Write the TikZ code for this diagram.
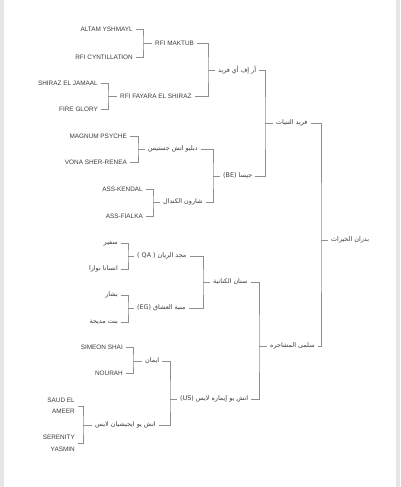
\documentclass[tikz,border=0pt]{standalone}
\usepackage{fontspec}
\setmainfont{Liberation Sans}
\newfontfamily\arabicfont[Script=Arabic]{DejaVu Sans}
\TeXXeTstate=1
\definecolor{txt}{HTML}{3C3C3C}
\definecolor{ln}{HTML}{8F8F8F}
\definecolor{edgegray}{HTML}{E6E6E6}
\newcommand\arr[1]{\beginR #1\endR}
\tikzset{
 lat/.style={inner sep=0pt, text=txt, font=\fontsize{6.4}{11.5}\selectfont},
 ara/.style={inner sep=0pt, text=txt, font=\arabicfont\fontsize{6.4}{7.5}\selectfont},
 link/.style={draw=ln, line width=0.7pt},
}
\begin{document}
\begin{tikzpicture}[x=1pt,y=-1pt]
\useasboundingbox (0,0) rectangle (400,487);
\fill[white] (0,0) rectangle (400,487);
\fill[edgegray] (0,0) rectangle (3.5,487);
\fill[edgegray] (396,0) rectangle (400,487);

% leaves
\node[lat,anchor=east] (n1) at (133,29) {ALTAM YSHMAYL};
\node[lat,anchor=east] (n2) at (133,57) {RFI CYNTILLATION};
\node[lat,anchor=east] (n3) at (98,83) {SHIRAZ EL JAMAAL};
\node[lat,anchor=east] (n4) at (98,109) {FIRE GLORY};
\node[lat,anchor=east] (n5) at (127,136) {MAGNUM PSYCHE};
\node[lat,anchor=east] (n6) at (127,162) {VONA SHER-RENEA};
\node[lat,anchor=east] (n7) at (143,189) {ASS-KENDAL};
\node[lat,anchor=east] (n8) at (143,216) {ASS-FIALKA};
\node[ara,anchor=east] (n9) at (118,243) {\arr{سفير}};
\node[ara,anchor=east] (n10) at (118,269) {\arr{انسانا نوارا}};
\node[ara,anchor=east] (n11) at (118,295) {\arr{بشار}};
\node[ara,anchor=east] (n12) at (118,322) {\arr{بنت مديحة}};
\node[lat,anchor=east] (n13) at (123,347) {SIMEON SHAI};
\node[lat,anchor=east] (n14) at (123,373) {NOURAH};
\node[lat,anchor=east,align=right] (n15) at (75,406) {SAUD EL\\AMEER};
\node[lat,anchor=east,align=right] (n16) at (75,443.5) {SERENITY\\YASMIN};

% level 1
\node[lat,anchor=west] (p1) at (155,43) {RFI MAKTUB};
\node[lat,anchor=west] (p2) at (120,96) {RFI FAYARA EL SHIRAZ};
\node[ara,anchor=west] (p3) at (148,149) {\arr{دبليو اتش جستيس}};
\node[ara,anchor=west] (p4) at (163,202) {\arr{شارون الكندال}};
\node[ara,anchor=west] (p5) at (137,256) {\arr{مجد الريان \hbox{( QA )}}};
\node[ara,anchor=west] (p6) at (137,308) {\arr{منية العشاق \hbox{(EG)}}};
\node[ara,anchor=west] (p7) at (145,361) {\arr{ايمان}};
\node[ara,anchor=west] (p8) at (95,425) {\arr{انش يو ايجيشيان لايس}};

% level 2
\node[ara,anchor=west] (q1) at (218,70) {\arr{أر إف أي فريد}};
\node[ara,anchor=west] (q2) at (223,176) {\arr{جيسا \hbox{(BE)}}};
\node[ara,anchor=west] (q3) at (213,282) {\arr{سنان الكنانية}};
\node[ara,anchor=west] (q4) at (180,399) {\arr{انش يو إيماره لايس \hbox{(US)}}};

% level 3
\node[ara,anchor=west] (r1) at (276,123) {\arr{فريد التنيات}};
\node[ara,anchor=west] (r2) at (270,346) {\arr{سلمى المشاجره}};

% final
\node[ara,anchor=west] (s) at (331,240) {\arr{بدران الخيرات}};

% bracket coordinates
\coordinate (b1) at (143,43);
\coordinate (b2) at (108,96);
\coordinate (b3) at (208,70);
\coordinate (b4) at (138,149);
\coordinate (b5) at (153,202);
\coordinate (b6) at (213,176);
\coordinate (b7) at (265,123);
\coordinate (b8) at (128,256);
\coordinate (b9) at (128,308);
\coordinate (b10) at (203,282);
\coordinate (b11) at (133,361);
\coordinate (b12) at (83,425);
\coordinate (b13) at (170,399);
\coordinate (b14) at (259,346);
\coordinate (b15) at (321,240);

\draw[link] ([xshift=3pt]n1.east) -| (b1) |- ([xshift=3pt]n2.east);
\draw[link] (b1) -- ([xshift=-3pt]p1.west);
\draw[link] ([xshift=3pt]n3.east) -| (b2) |- ([xshift=3pt]n4.east);
\draw[link] (b2) -- ([xshift=-3pt]p2.west);
\draw[link] ([xshift=3pt]p1.east) -| (b3) |- ([xshift=3pt]p2.east);
\draw[link] (b3) -- ([xshift=-3pt]q1.west);

\draw[link] ([xshift=3pt]n5.east) -| (b4) |- ([xshift=3pt]n6.east);
\draw[link] (b4) -- ([xshift=-3pt]p3.west);
\draw[link] ([xshift=3pt]n7.east) -| (b5) |- ([xshift=3pt]n8.east);
\draw[link] (b5) -- ([xshift=-3pt]p4.west);
\draw[link] ([xshift=3pt]p3.east) -| (b6) |- ([xshift=3pt]p4.east);
\draw[link] (b6) -- ([xshift=-3pt]q2.west);

\draw[link] ([xshift=3pt]q1.east) -| (b7) |- ([xshift=3pt]q2.east);
\draw[link] (b7) -- ([xshift=-3pt]r1.west);

\draw[link] ([xshift=3pt]n9.east) -| (b8) |- ([xshift=3pt]n10.east);
\draw[link] (b8) -- ([xshift=-3pt]p5.west);
\draw[link] ([xshift=3pt]n11.east) -| (b9) |- ([xshift=3pt]n12.east);
\draw[link] (b9) -- ([xshift=-3pt]p6.west);
\draw[link] ([xshift=3pt]p5.east) -| (b10) |- ([xshift=3pt]p6.east);
\draw[link] (b10) -- ([xshift=-3pt]q3.west);

\draw[link] ([xshift=3pt]n13.east) -| (b11) |- ([xshift=3pt]n14.east);
\draw[link] (b11) -- ([xshift=-3pt]p7.west);
\draw[link] ([xshift=3pt]n15.east) -| (b12) |- ([xshift=3pt]n16.east);
\draw[link] (b12) -- ([xshift=-3pt]p8.west);
\draw[link] ([xshift=3pt]p7.east) -| (b13) |- ([xshift=3pt]p8.east);
\draw[link] (b13) -- ([xshift=-3pt]q4.west);

\draw[link] ([xshift=3pt]q3.east) -| (b14) |- ([xshift=3pt]q4.east);
\draw[link] (b14) -- ([xshift=-3pt]r2.west);

\draw[link] ([xshift=3pt]r1.east) -| (b15) |- ([xshift=3pt]r2.east);
\draw[link] (b15) -- ([xshift=-3pt]s.west);
\end{tikzpicture}
\end{document}
